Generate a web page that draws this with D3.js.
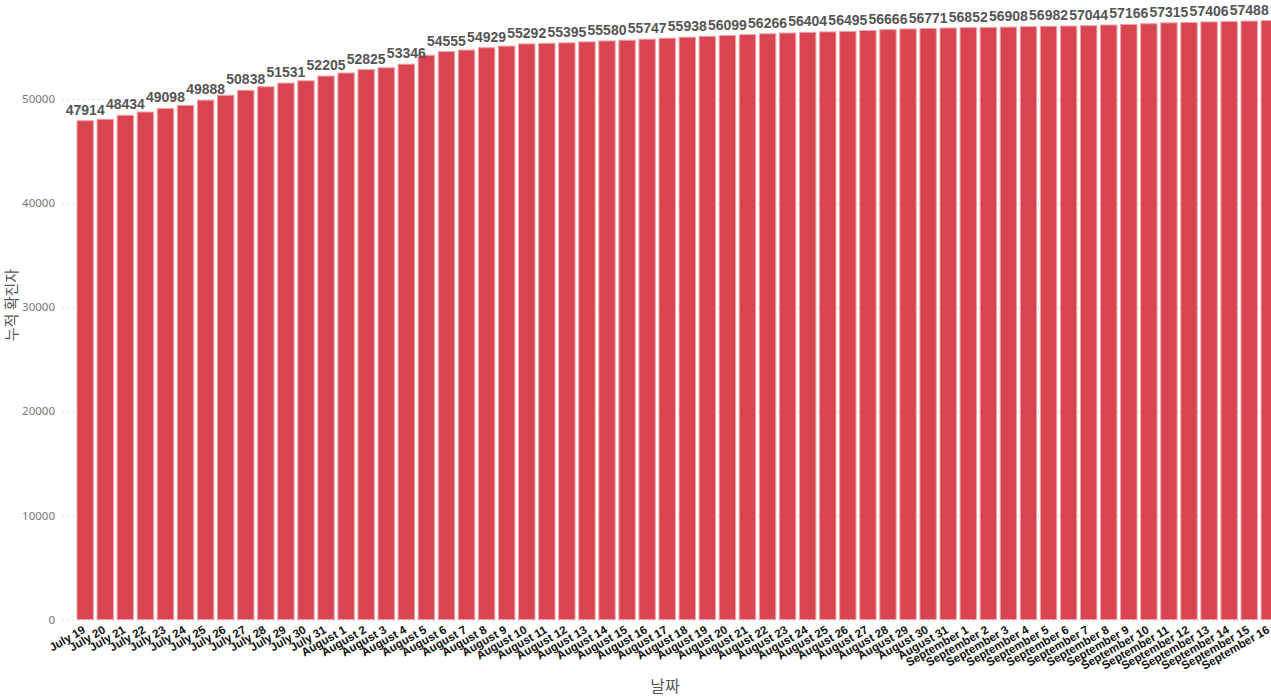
<!DOCTYPE html>
<html>
<head>
<meta charset="utf-8">
<script src="https://cdn.jsdelivr.net/npm/d3@7"></script>
<style>
  body { margin: 0; background: #fff; overflow: hidden; }
</style>
</head>
<body>
<div id="my_dataviz"></div>
<script>
// dates on the x axis (one bar per day)
var dates = [
    "July 19", "July 20", "July 21", "July 22", "July 23", "July 24", "July 25", "July 26", "July 27", "July 28",
    "July 29", "July 30", "July 31", "August 1", "August 2", "August 3", "August 4", "August 5", "August 6", "August 7",
    "August 8", "August 9", "August 10", "August 11", "August 12", "August 13", "August 14", "August 15", "August 16", "August 17",
    "August 18", "August 19", "August 20", "August 21", "August 22", "August 23", "August 24", "August 25", "August 26", "August 27",
    "August 28", "August 29", "August 30", "August 31", "September 1", "September 2", "September 3", "September 4", "September 5", "September 6",
    "September 7", "September 8", "September 9", "September 10", "September 11", "September 12", "September 13", "September 14", "September 15", "September 16"
];

// cumulative confirmed cases (odd days)
var cases = [
    47914, 48050, 48434, 48750, 49098, 49386, 49888, 50360, 50838, 51180,
    51531, 51750, 52205, 52500, 52825, 53000, 53346, 54200, 54555, 54700,
    54929, 55080, 55292, 55350, 55395, 55490, 55580, 55650, 55747, 55840,
    55938, 56020, 56099, 56180, 56266, 56340, 56404, 56450, 56495, 56580,
    56666, 56730, 56771, 56820, 56852, 56880, 56908, 56950, 56982, 57010,
    57044, 57110, 57166, 57230, 57315, 57350, 57406, 57440, 57488, 57530
];

var yTicks = [0, 10000, 20000, 30000, 40000, 50000];
var yTitle = "누적 확진자";
var xTitle = "날짜";

var width = 1271, height = 698;

var svg = d3.select("#my_dataviz")
    .append("svg")
        .attr("width", width)
        .attr("height", height);

var x = d3.scaleBand()
    .domain(dates)
    .range([75, 1279.5])
    .paddingInner(0.183)
    .paddingOuter(0.1);

var y = d3.scaleLinear()
    .domain([0, 59510])
    .range([619.5, 0]);

// dotted gridlines
svg.append("g")
    .selectAll("line")
    .data(yTicks)
    .enter().append("line")
        .attr("x1", 63)
        .attr("x2", width)
        .attr("y1", function(d) { return Math.round(y(d)) + 0.5; })
        .attr("y2", function(d) { return Math.round(y(d)) + 0.5; })
        .attr("stroke", "#c8c8c8")
        .attr("stroke-dasharray", "1,4");

// y tick labels
var yAxis = svg.append("g")
    .attr("transform", "translate(58,0)")
    .call(d3.axisLeft(y).tickValues(yTicks).tickSize(0).tickFormat(d3.format("d")));
yAxis.select(".domain").remove();
yAxis.selectAll("text")
    .attr("fill", "#777")
    .style("font-family", "'Noto Sans', sans-serif")
    .style("font-size", "11.5px");

// bars
svg.append("g")
    .selectAll("rect")
    .data(cases)
    .enter().append("rect")
        .attr("x", function(d, i) { return x(dates[i]); })
        .attr("y", function(d) { return y(d); })
        .attr("width", x.bandwidth())
        .attr("height", function(d) { return y(0) - y(d); })
        .attr("fill", "#d84550")
        .attr("stroke", "#eea3a8")
        .attr("stroke-width", 1);

// value labels, only every other bar fits
svg.append("g")
    .selectAll("text")
    .data(cases.filter(function(d, i) { return i % 2 == 0; }))
    .enter().append("text")
        .attr("x", function(d, i) { return x(dates[i * 2]) + x.bandwidth() / 2; })
        .attr("y", function(d) { return y(d) - 6; })
        .attr("text-anchor", "middle")
        .attr("fill", "#555")
        .style("font-family", "Arial, 'Liberation Sans', sans-serif")
        .style("font-weight", "bold")
        .style("font-size", "14px")
        .text(function(d) { return d; });

// x tick labels, rotated
svg.append("g")
    .selectAll("text")
    .data(dates)
    .enter().append("text")
        .attr("transform", function(d) {
            return "translate(" + (x(d) + x.bandwidth() / 2 + 1) + ",632) rotate(-30)";
        })
        .attr("text-anchor", "end")
        .attr("fill", "#111")
        .style("font-family", "Arial, 'Liberation Sans', sans-serif")
        .style("font-weight", "bold")
        .style("font-size", "11.6px")
        .text(function(d) { return d; });

// axis titles
svg.append("text")
    .attr("x", 665)
    .attr("y", 692)
    .attr("text-anchor", "middle")
    .attr("fill", "#555")
    .style("font-family", "'Noto Sans CJK KR', sans-serif")
    .style("font-size", "16px")
    .text(xTitle);

svg.append("text")
    .attr("transform", "translate(17,305) rotate(-90)")
    .attr("text-anchor", "middle")
    .attr("fill", "#555")
    .style("font-family", "'Noto Sans CJK KR', sans-serif")
    .style("font-size", "15px")
    .text(yTitle);
</script>
</body>
</html>
